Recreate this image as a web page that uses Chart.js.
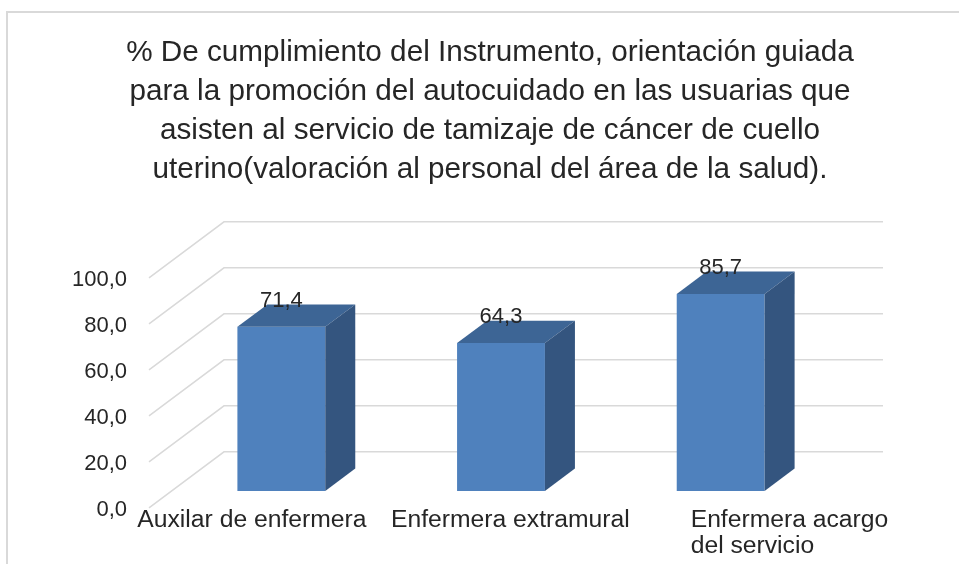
<!DOCTYPE html>
<html>
<head>
<meta charset="utf-8">
<script src="https://cdn.jsdelivr.net/npm/chart.js@4.4.1/dist/chart.umd.min.js"></script>
<style>
  html, body { margin: 0; padding: 0; background: #fff; overflow: hidden; }
  #frame { position: absolute; left: 6px; top: 11px; width: 1000px; height: 600px;
           border: 2px solid #d9d9d9; box-sizing: border-box; }
  #wrap { position: absolute; left: 0; top: 0; width: 959px; height: 564px; }
</style>
</head>
<body>
<div id="frame"></div>
<div id="wrap"><canvas id="chart" width="959" height="564"></canvas></div>
<script>
const titleLines = [
  "% De cumplimiento del Instrumento, orientación guiada",
  "para la promoción del autocuidado en las usuarias que",
  "asisten al servicio de tamizaje de cáncer de cuello",
  "uterino(valoración al personal del área de la salud)."
];
const categories = ["Auxilar de enfermera", "Enfermera extramural", ["Enfermera acargo", "del servicio"]];
const values = [71.4, 64.3, 85.7];
const yTicks = [0, 20, 40, 60, 80, 100];

const FONT = "'Liberation Sans', Arial, sans-serif";
const TEXT = "#262626";

// where each category label starts, relative to its tick (Excel spreads them unevenly)
const labelLeft = [-144, -110, -30];

function fmt(v) {
  return v.toFixed(1).replace(".", ",");
}

// fake 3D: full floor depth, bar front sits 30% deep, bar is 40% deep
const DEPTH = { x: 75, y: -56 };
const FRONT = 0.3, BAR = 0.4;

const box3d = {
  id: "box3d",
  beforeDatasetsDraw(chart) {
    const { ctx, chartArea: a, scales: { y } } = chart;
    const fx = -FRONT * DEPTH.x, fy = -FRONT * DEPTH.y;
    const bx = (1 - FRONT) * DEPTH.x, by = (1 - FRONT) * DEPTH.y;
    ctx.save();
    ctx.strokeStyle = "#d9d9d9";
    ctx.lineWidth = 1.5;
    y.ticks.forEach(t => {
      const py = y.getPixelForValue(t.value);
      ctx.beginPath();
      ctx.moveTo(a.left + fx, py + fy);
      ctx.lineTo(a.left + bx, py + by);
      ctx.lineTo(a.right + bx, py + by);
      ctx.stroke();
    });
    ctx.restore();
  },
  afterDatasetsDraw(chart) {
    const ctx = chart.ctx;
    const dx = BAR * DEPTH.x, dy = BAR * DEPTH.y;
    ctx.save();
    chart.getDatasetMeta(0).data.forEach((bar, i) => {
      const l = bar.x - bar.width / 2, r = bar.x + bar.width / 2;
      const t = bar.y, b = bar.base;

      // top face
      ctx.fillStyle = "#3d6595";
      ctx.beginPath();
      ctx.moveTo(l, t);
      ctx.lineTo(r, t);
      ctx.lineTo(r + dx, t + dy);
      ctx.lineTo(l + dx, t + dy);
      ctx.closePath();
      ctx.fill();

      // side face
      ctx.fillStyle = "#34557f";
      ctx.beginPath();
      ctx.moveTo(r, t);
      ctx.lineTo(r, b);
      ctx.lineTo(r + dx, b + dy);
      ctx.lineTo(r + dx, t + dy);
      ctx.closePath();
      ctx.fill();

      // value label
      ctx.fillStyle = TEXT;
      ctx.font = "22px " + FONT;
      ctx.textAlign = "center";
      ctx.textBaseline = "middle";
      ctx.fillText(fmt(values[i]), bar.x, t - 26);
    });
    ctx.restore();
  },
  afterDraw(chart) {
    const { ctx, chartArea: a, scales: { x } } = chart;
    ctx.save();
    ctx.fillStyle = TEXT;
    ctx.font = "24.7px " + FONT;
    ctx.textAlign = "left";
    ctx.textBaseline = "middle";
    categories.forEach((c, i) => {
      const lines = Array.isArray(c) ? c : [c];
      const px = x.getPixelForTick(i) + labelLeft[i];
      lines.forEach((s, j) => ctx.fillText(s, px, a.bottom + 29 + j * 26));
    });
    ctx.restore();
  }
};

const ctx = document.getElementById("chart").getContext("2d");

new Chart(ctx, {
  type: "bar",
  data: {
    labels: categories,
    datasets: [{
      data: values,
      backgroundColor: "#4f81bd",
      borderWidth: 0,
      categoryPercentage: 1,
      barPercentage: 0.4
    }]
  },
  options: {
    responsive: false,
    devicePixelRatio: 1,
    animation: false,
    layout: { padding: { left: 69.5, right: 48.5, top: 0, bottom: 0 } },
    plugins: {
      legend: { display: false },
      tooltip: { enabled: false },
      title: {
        display: true,
        text: titleLines,
        color: TEXT,
        font: { family: FONT, size: 29.7, weight: "normal", lineHeight: "39px" },
        padding: { top: 33.5, bottom: 71.5 }
      }
    },
    scales: {
      x: {
        grid: { display: false, drawTicks: false },
        border: { display: false },
        ticks: { display: false },
        afterFit: s => { s.height = 73; }
      },
      y: {
        min: 0,
        max: 100,
        grid: { display: false, drawTicks: false },
        border: { display: false },
        afterBuildTicks: s => { s.ticks = yTicks.map(v => ({ value: v })); },
        ticks: {
          color: TEXT,
          font: { family: FONT, size: 22 },
          padding: 44.5,
          labelOffset: 19,
          callback: v => fmt(v)
        },
        afterFit: s => { s.width = 102; }
      },
      // empty right-hand axis: keeps the plot where Excel had it
      yRight: {
        position: "right",
        grid: { display: false, drawTicks: false },
        border: { display: false },
        ticks: { display: false },
        afterFit: s => { s.width = 80; }
      }
    }
  },
  plugins: [box3d]
});
</script>
</body>
</html>
